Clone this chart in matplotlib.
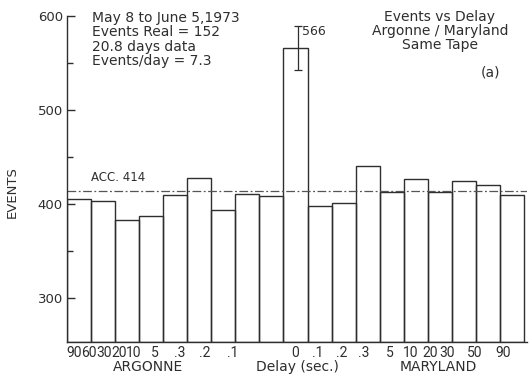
import matplotlib.pyplot as plt
import numpy as np

# delay settings: Argonne side, zero delay, Maryland side
delay_labels = ['90', '60', '30', '20', '10', '5', '.3', '.2', '.1', '0',
                '.1', '.2', '.3', '5', '10', '20', '30', '50', '90']
events = [405, 403, 383, 387, 410, 428, 394, 411, 408, 566,
          398, 401, 440, 413, 427, 413, 424, 420, 410]
acc_level = 414
zero_index = 9

notes = ["May 8 to June 5,1973", "Events Real = 152",
         "20.8 days data", "Events/day = 7.3"]
title_lines = ["Events vs Delay", "Argonne / Maryland", "Same Tape"]

# hand lettered tick positions (in bar units), squeezed on the left
label_pos = [0.29, 0.91, 1.54, 2.16, 2.79, 3.66, 4.7, 5.74, 6.9, 9.48,
             10.44, 11.43, 12.35, 13.43, 14.30, 15.09, 15.80, 16.96, 18.13]

INK = '#2e2e2e'
FS = 9.5

fig = plt.figure(figsize=(5.3, 3.92), dpi=100)
fig.patch.set_facecolor('white')
ax = fig.add_axes([67 / 530, 1 - 342 / 392, 460 / 530, 326 / 392])

x = np.arange(len(events))
ax.bar(x, np.array(events) - 253, bottom=253, width=1.0, align='edge',
       facecolor='none', edgecolor=INK, linewidth=1.0)

# statistical error on the zero-delay peak
peak = events[zero_index]
err = np.sqrt(peak)
ax.errorbar(zero_index + 0.6, peak, yerr=err, fmt='none',
            ecolor=INK, elinewidth=0.9, capsize=3, capthick=0.9)
ax.text(zero_index + 0.78, peak + err - 6, str(peak),
        fontsize=FS - 0.5, color=INK, va='center', ha='left')

# accidental level
ax.axhline(acc_level, color='#555555', linewidth=0.9,
           linestyle=(0, (7, 2, 1.5, 2)))
ax.text(1.0, acc_level + 7, f"ACC. {acc_level}", fontsize=FS - 1,
        color=INK, va='bottom', ha='left')

ax.set_xlim(0, 460 / 24.05)
ax.set_ylim(253, 600)
ax.spines['top'].set_visible(False)
ax.spines['right'].set_visible(False)
for s in ('left', 'bottom'):
    ax.spines[s].set_color(INK)
    ax.spines[s].set_linewidth(1.0)

ax.set_yticks([300, 400, 500, 600])
ax.set_yticks([350, 450, 550], minor=True)
ax.tick_params(axis='y', which='major', direction='in', length=6, width=1,
               colors=INK, labelsize=FS, pad=3)
ax.tick_params(axis='y', which='minor', direction='in', length=4, width=1,
               colors=INK)

ax.set_xticks(label_pos, delay_labels)
ax.tick_params(axis='x', length=0, pad=3, labelsize=FS + 0.5, colors=INK)
for lab in ax.get_xticklabels():
    lab.set_family(['Roboto', 'DejaVu Sans'])

fig.text(148 / 530, 1 - 367 / 392, "ARGONNE", fontsize=FS + 0.5, color=INK,
         ha='center', va='center')
fig.text(297 / 530, 1 - 367 / 392, "Delay (sec.)", fontsize=FS + 0.5,
         color=INK, ha='center', va='center')
fig.text(438 / 530, 1 - 367 / 392, "MARYLAND", fontsize=FS + 0.5, color=INK,
         ha='center', va='center')
fig.text(12 / 530, 1 - 192 / 392, "EVENTS", fontsize=FS, color=INK,
         rotation=90, ha='center', va='center')

for i, line in enumerate(notes):
    fig.text(92 / 530, 1 - (18 + 14.5 * i) / 392, line, fontsize=FS + 0.5,
             color=INK, ha='left', va='center')
for i, line in enumerate(title_lines):
    fig.text(440 / 530, 1 - (17 + 14 * i) / 392, line, fontsize=FS + 0.5,
             color=INK, ha='center', va='center')
fig.text(491 / 530, 1 - 72 / 392, "(a)", fontsize=FS + 0.5, color=INK,
         ha='center', va='center')

fig.savefig('out.png', dpi=100)
